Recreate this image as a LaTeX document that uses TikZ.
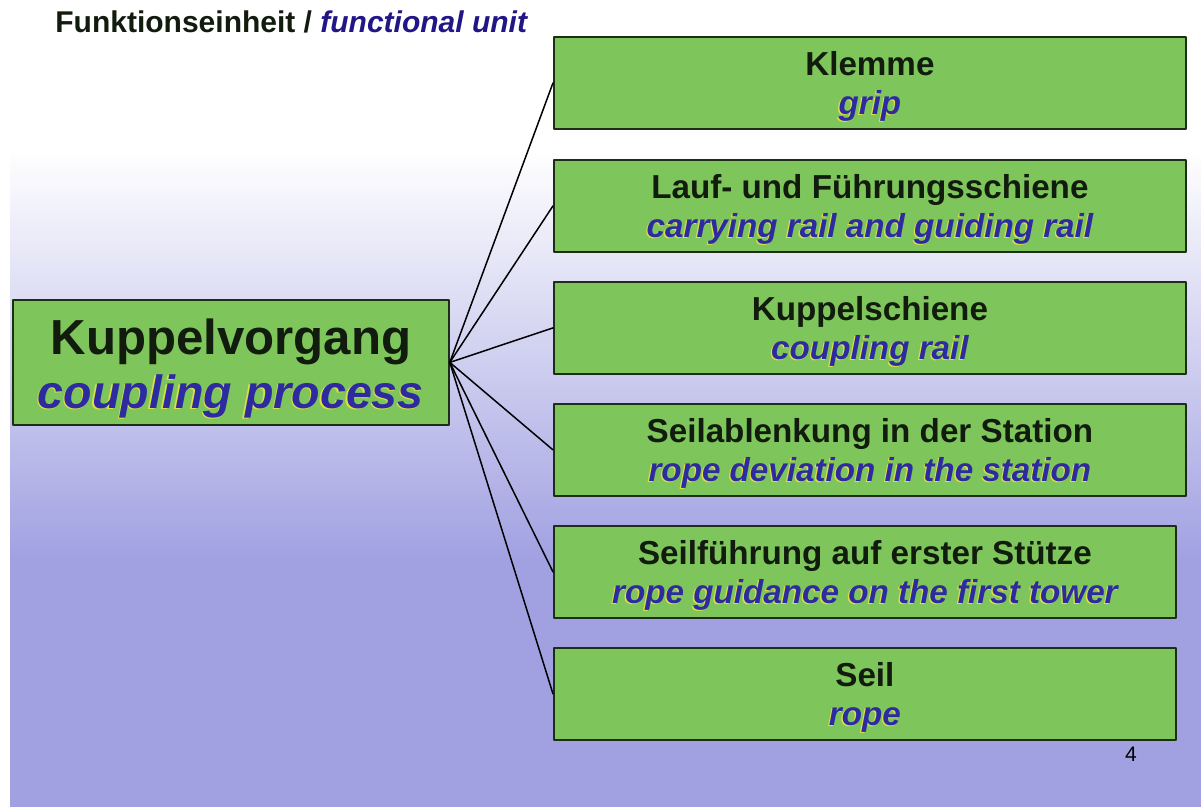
\documentclass[tikz,border=0pt]{standalone}
\usepackage{fontspec}
\setmainfont{Liberation Sans}

\definecolor{boxgreen}{RGB}{126,197,92}
\definecolor{boxline}{RGB}{30,45,22}
\definecolor{slidelilac}{RGB}{161,161,226}
\definecolor{textblue}{RGB}{44,44,160}
\definecolor{titleblue}{RGB}{34,22,135}
\definecolor{shadowyellow}{RGB}{222,222,70}
\definecolor{inkblack}{RGB}{18,28,14}

% blue italic text with a thin yellow shadow
\newcommand{\yshadow}[1]{\leavevmode\rlap{\kern-0.7pt\raisebox{-0.5pt}{\color{shadowyellow}#1}}#1}

\begin{document}
\begin{tikzpicture}[x=0.5pt, y=-0.5pt, line cap=round, line join=round,
    unitbox/.style={draw=boxline, line width=0.9pt, fill=boxgreen, align=center,
        inner sep=0pt, anchor=north west, minimum height=46pt, text=inkblack,
        text height=36pt, text depth=4pt,
        font=\fontsize{16.6}{19.6}\selectfont\bfseries},
    link/.style={black, line width=0.75pt}]

    \useasboundingbox (0,0) rectangle (1201,807);

    % ------------------------------------------------------------------
    % 1. Slide background (white fading into lilac)
    % ------------------------------------------------------------------
    \fill[white] (0,0) rectangle (1201,807);
    \shade[top color=white, bottom color=slidelilac] (10,150) rectangle (1201,560);
    \fill[slidelilac] (10,559) rectangle (1201,807);

    % ------------------------------------------------------------------
    % 2. Heading
    % ------------------------------------------------------------------
    \node[anchor=base west, inner sep=0pt, text=inkblack, font=\fontsize{15}{18}\selectfont\bfseries]
        (heading) at (55,33) {Funktionseinheit / \textcolor{titleblue}{\itshape functional unit}};

    % ------------------------------------------------------------------
    % 3. Main process box
    % ------------------------------------------------------------------
    \node[unitbox, minimum width=218pt, minimum height=62.5pt,
        text height=52pt, text depth=5.5pt,
        font=\fontsize{24.6}{27}\selectfont\bfseries] (process) at (12,299)
        {Kuppelvorgang\\\textcolor{textblue}{\fontsize{23.3}{27}\selectfont\itshape\yshadow{coupling process}}};

    % ------------------------------------------------------------------
    % 4. Functional units
    % ------------------------------------------------------------------
    \foreach \name/\ytop/\boxwd/\de/\en in {
        grip/36/316/Klemme/grip,
        rails/159/316/Lauf- und Führungsschiene/carrying rail and guiding rail,
        coupling/281/316/Kuppelschiene/coupling rail,
        deviation/403/316/Seilablenkung in der Station/rope deviation in the station,
        guidance/525/311/Seilführung auf erster Stütze/rope guidance on the first tower,
        rope/647/311/Seil/rope}
    {
        \node[unitbox, minimum width=\boxwd pt] (\name) at (553,\ytop)
            {\de\\\textcolor{textblue}{\itshape\yshadow{\en}}};
    }

    % ------------------------------------------------------------------
    % 5. Connectors fanning out from the process box
    % ------------------------------------------------------------------
    \coordinate (hub) at (process.east);
    \foreach \name in {grip, rails, coupling, deviation, guidance, rope}
        \draw[link] (hub) -- (\name.west);

    % ------------------------------------------------------------------
    % 6. Page number
    % ------------------------------------------------------------------
    \node[font=\fontsize{10.5}{12}\selectfont, inner sep=0pt] (pagenum) at (1131,754) {4};

\end{tikzpicture}
\end{document}
